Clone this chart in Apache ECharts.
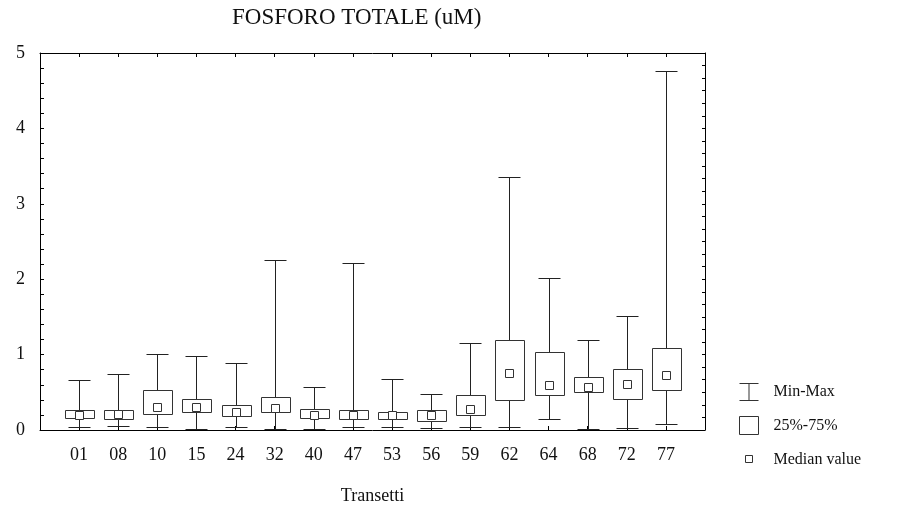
<!DOCTYPE html>
<html>
<head>
<meta charset="utf-8">
<script src="https://cdn.jsdelivr.net/npm/echarts@6/dist/echarts.min.js"></script>
<style>
  html, body { margin: 0; padding: 0; background: #fff; }
  #main { width: 898px; height: 510px; }
</style>
</head>
<body>
<div id="main"></div>
<script>
// transetti
var cats = ['01', '08', '10', '15', '24', '32', '40', '47', '53', '56', '59', '62', '64', '68', '72', '77']
var minVals = [0.035, 0.056, 0.035, 0.017, 0.035, 0.017, 0.017, 0.043, 0.035, 0.03, 0.035, 0.035, 0.147, 0.017, 0.026, 0.078]
var q1Vals = [0.165, 0.147, 0.217, 0.234, 0.191, 0.234, 0.165, 0.147, 0.147, 0.125, 0.195, 0.394, 0.459, 0.507, 0.412, 0.529]
var medVals = [0.195, 0.212, 0.308, 0.308, 0.243, 0.286, 0.195, 0.195, 0.195, 0.195, 0.282, 0.75, 0.594, 0.572, 0.615, 0.728]
var q3Vals = [0.264, 0.264, 0.529, 0.416, 0.329, 0.442, 0.278, 0.264, 0.243, 0.264, 0.459, 1.196, 1.036, 0.706, 0.815, 1.088]
var maxVals = [0.667, 0.741, 1.01, 0.98, 0.888, 2.26, 0.576, 2.21, 0.676, 0.477, 1.157, 3.35, 2.01, 1.2, 1.508, 4.76]
var yTicks = [0, 1, 2, 3, 4, 5]

// empty slots at both ends so the boxes sit away from the frame
var axisCats = [''].concat(cats, [''])

var serif = 'Liberation Serif'
var ink = '#222'

var myChart = echarts.init(document.getElementById('main'))

function px(v) { return Math.round(v) + 0.5 }

function whiskerItem(params, api) {
    var x = px(api.coord([api.value(0), 0])[0])
    var yMin = px(api.coord([api.value(0), api.value(1)])[1])
    var yMax = px(api.coord([api.value(0), api.value(2)])[1])
    var cap = 11
    var st = { stroke: ink, lineWidth: 1 }
    return {
        type: 'group',
        children: [
            { type: 'line', shape: { x1: x, y1: yMin, x2: x, y2: yMax }, style: st },
            { type: 'line', shape: { x1: x - cap, y1: yMax, x2: x + cap, y2: yMax }, style: st },
            { type: 'line', shape: { x1: x - cap, y1: yMin, x2: x + cap, y2: yMin }, style: st }
        ]
    }
}

function boxItem(params, api) {
    var x = px(api.coord([api.value(0), 0])[0])
    var yLo = px(api.coord([api.value(0), api.value(1)])[1])
    var yHi = px(api.coord([api.value(0), api.value(2)])[1])
    var w = 29
    return {
        type: 'rect',
        shape: { x: x - Math.floor(w / 2), y: yHi, width: w, height: yLo - yHi },
        style: { fill: '#fff', stroke: '#333', lineWidth: 1 }
    }
}

function medianItem(params, api) {
    var x = px(api.coord([api.value(0), 0])[0])
    var y = px(api.coord([api.value(0), api.value(1)])[1])
    var s = 8
    return {
        type: 'rect',
        shape: { x: x - s / 2, y: y - s / 2, width: s, height: s },
        style: { fill: '#fff', stroke: '#333', lineWidth: 1 }
    }
}

var options = {
    animation: false,
    backgroundColor: '#fff',
    title: {
        text: 'FOSFORO TOTALE (uM)',
        left: 232,
        top: 6,
        padding: 0,
        textStyle: { fontFamily: serif, fontSize: 23, fontWeight: 'normal', color: '#111' }
    },
    legend: {
        orient: 'vertical',
        left: 739,
        top: 383,
        padding: 0,
        itemWidth: 19,
        itemHeight: 18,
        itemGap: 15,
        selectedMode: false,
        textStyle: { fontFamily: serif, fontSize: 16, color: '#111', padding: [0, 0, 0, 10] },
        data: [
            { name: 'Min-Max', icon: 'path://M0,0H19V1H10V17H19V18H0V17H9V1H0Z', itemStyle: { color: '#333', borderWidth: 0 } },
            { name: '25%-75%', icon: 'rect', itemStyle: { color: '#fff', borderColor: '#333', borderWidth: 1 } },
            { name: 'Median value', icon: 'path://M0,0M19,18M6,5H13V12H6Z', itemStyle: { color: '#fff', borderColor: '#333', borderWidth: 1 } }
        ]
    },
    grid: { left: 40, right: 193, top: 53, bottom: 72 },
    xAxis: [{
        type: 'category',
        data: axisCats,
        boundaryGap: false,
        name: 'Transetti',
        nameLocation: 'middle',
        nameGap: 57,
        nameTextStyle: { fontFamily: serif, fontSize: 18, color: '#111' },
        axisLine: { onZero: false, lineStyle: { color: '#000' } },
        axisTick: { inside: true, length: 4, lineStyle: { color: '#000' } },
        axisLabel: { fontFamily: serif, fontSize: 18, color: '#111', margin: 16, interval: 0 },
        splitLine: { show: false }
    }, {
        type: 'category',
        data: axisCats,
        boundaryGap: false,
        position: 'top',
        axisLine: { onZero: false, lineStyle: { color: '#000' } },
        axisTick: { inside: true, length: 4, interval: 0, lineStyle: { color: '#000' } },
        axisLabel: { show: false },
        splitLine: { show: false }
    }],
    yAxis: [{
        type: 'value',
        min: yTicks[0],
        max: yTicks[yTicks.length - 1],
        interval: 1,
        axisLine: { show: true, onZero: false, lineStyle: { color: '#000' } },
        axisTick: { show: true, inside: true, length: 4, lineStyle: { color: '#000' } },
        minorTick: { show: true, splitNumber: 5, length: 4, lineStyle: { color: '#000' } },
        axisLabel: { fontFamily: serif, fontSize: 18, color: '#111', margin: 15 },
        splitLine: { show: false }
    }, {
        // right frame with its own fine ticks
        type: 'value',
        min: 0,
        max: 30,
        interval: 1,
        position: 'right',
        axisLine: { show: true, onZero: false, lineStyle: { color: '#000' } },
        axisTick: { show: true, inside: true, length: 3, lineStyle: { color: '#000' } },
        axisLabel: { show: false },
        splitLine: { show: false }
    }],
    series: [{
        name: 'Min-Max',
        type: 'custom',
        z: 2,
        renderItem: whiskerItem,
        encode: { x: 0, y: [1, 2] },
        data: cats.map(function (c, i) { return [c, minVals[i], maxVals[i]] })
    }, {
        name: '25%-75%',
        type: 'custom',
        z: 3,
        renderItem: boxItem,
        encode: { x: 0, y: [1, 2] },
        data: cats.map(function (c, i) { return [c, q1Vals[i], q3Vals[i]] })
    }, {
        name: 'Median value',
        type: 'custom',
        z: 4,
        renderItem: medianItem,
        encode: { x: 0, y: 1 },
        data: cats.map(function (c, i) { return [c, medVals[i]] })
    }]
}

myChart.setOption(options)
</script>
</body>
</html>
